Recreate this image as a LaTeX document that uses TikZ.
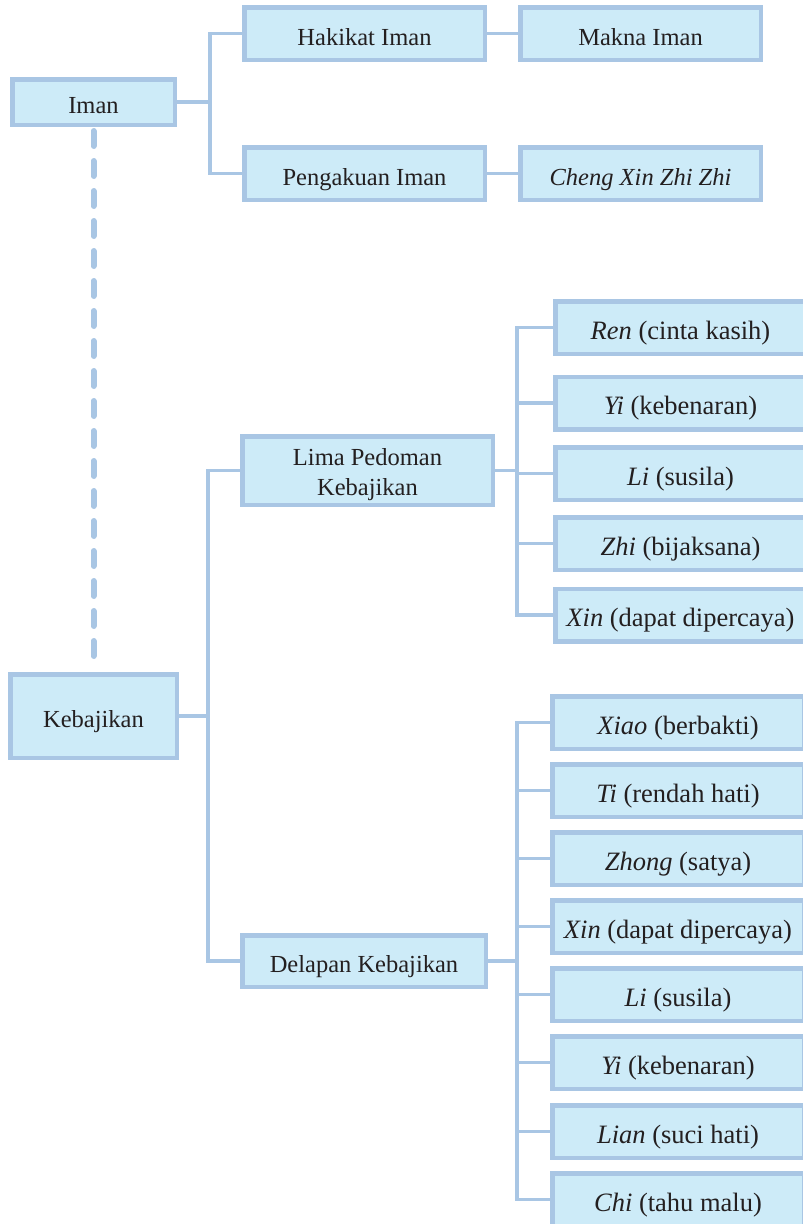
\documentclass[tikz,border=0pt]{standalone}
\usepackage{fontspec}
\setmainfont{Liberation Serif}
\definecolor{boxfill}{HTML}{CDEBF8}
\definecolor{boxline}{HTML}{A9C6E4}
\definecolor{ink}{HTML}{231F20}

\begin{document}
\begin{tikzpicture}[x=1pt,y=-1pt,
  box/.style={draw=boxline, fill=boxfill, line width=4.5pt, inner sep=0pt,
    text=ink, font=\fontsize{24.5}{30}\selectfont, align=center,
    text height=23pt, text depth=0pt},
  leaf/.style={box, font=\fontsize{26.5}{30}\selectfont},
  sz/.style 2 args={minimum width={#1pt-4.5pt}, minimum height={#2pt-4.5pt}},
  conn/.style={draw=boxline, line width=3.5pt},
  dashline/.style={draw=boxline, line width=6pt, line cap=round,
    dash pattern=on 15pt off 15pt}]

\useasboundingbox (0,0) rectangle (803,1224);
\clip (0,0) rectangle (803,1224);

% bracket x positions
\coordinate (bA) at (210,0);
\coordinate (bB) at (208,0);
\coordinate (bC) at (517,0);

% first level
\node[box, sz={167}{50}] (iman) at (93.5,102) {Iman};
\node[box, sz={171}{88}] (keb) at (93.5,716) {Kebajikan};

% Iman branch
\node[box, sz={245}{57}] (hakikat) at (364.5,33.5) {Hakikat Iman};
\node[box, sz={245}{57}] (makna) at (640.5,33.5) {Makna Iman};
\node[box, sz={245}{57}] (peng) at (364.5,173.5) {Pengakuan Iman};
\node[box, sz={245}{57}] (cheng) at (640.5,173.5) {\textit{Cheng Xin Zhi Zhi}};

% Kebajikan branch
\node[box, sz={255}{73}, text height=49pt] (lima) at (367.5,470.5) {Lima Pedoman\\Kebajikan};
\node[box, sz={248}{56}] (delapan) at (364,961) {Delapan Kebajikan};

% Lima Pedoman Kebajikan
\node[leaf, sz={255}{57}] (ren)  at (680.5,327.5) {\textit{Ren} (cinta kasih)};
\node[leaf, sz={255}{57}] (yiA)  at (680.5,403)   {\textit{Yi} (kebenaran)};
\node[leaf, sz={255}{57}] (liA)  at (680.5,473.5) {\textit{Li} (susila)};
\node[leaf, sz={255}{57}] (zhi)  at (680.5,543.5) {\textit{Zhi} (bijaksana)};
\node[leaf, sz={255}{57}] (xinA) at (680.5,615)   {\textit{Xin} (dapat dipercaya)};

% Delapan Kebajikan
\node[leaf, sz={256}{57}] (xiao)  at (678,722.5)  {\textit{Xiao} (berbakti)};
\node[leaf, sz={256}{57}] (ti)    at (678,790.5)  {\textit{Ti} (rendah hati)};
\node[leaf, sz={256}{57}] (zhong) at (678,858.5)  {\textit{Zhong} (satya)};
\node[leaf, sz={256}{57}] (xinB)  at (678,926.5)  {\textit{Xin} (dapat dipercaya)};
\node[leaf, sz={256}{57}] (liB)   at (678,994.5)  {\textit{Li} (susila)};
\node[leaf, sz={256}{57}] (yiB)   at (678,1062.5) {\textit{Yi} (kebenaran)};
\node[leaf, sz={256}{57}] (lian)  at (678,1131.5) {\textit{Lian} (suci hati)};
\node[leaf, sz={256}{57}] (chi)   at (678,1199.5) {\textit{Chi} (tahu malu)};

% dashed link between the two roots
\draw[dashline] ([yshift=-4pt]iman.south) -- ([yshift=4pt]keb.north);

% Iman bracket
\draw[conn] (hakikat.west) -| (bA |- peng.west) -- (peng.west);
\draw[conn] (iman.east) -- (iman.east -| bA);
\draw[conn] (hakikat.east) -- (makna.west);
\draw[conn] (peng.east) -- (cheng.west);

% Kebajikan bracket
\draw[conn] (lima.west) -| (bB |- delapan.west) -- (delapan.west);
\draw[conn] (keb.east) -- (keb.east -| bB);

% Lima Pedoman bracket
\draw[conn] (ren.west) -| (bC |- xinA.west) -- (xinA.west);
\foreach \n in {yiA, liA, zhi}
  \draw[conn] (\n.west) -- (\n.west -| bC);
\draw[conn] (lima.east) -- (lima.east -| bC);

% Delapan Kebajikan bracket
\draw[conn] (xiao.west) -| (bC |- chi.west) -- (chi.west);
\foreach \n in {ti, zhong, xinB, liB, yiB, lian}
  \draw[conn] (\n.west) -- (\n.west -| bC);
\draw[conn] (delapan.east) -- (delapan.east -| bC);

\end{tikzpicture}
\end{document}
